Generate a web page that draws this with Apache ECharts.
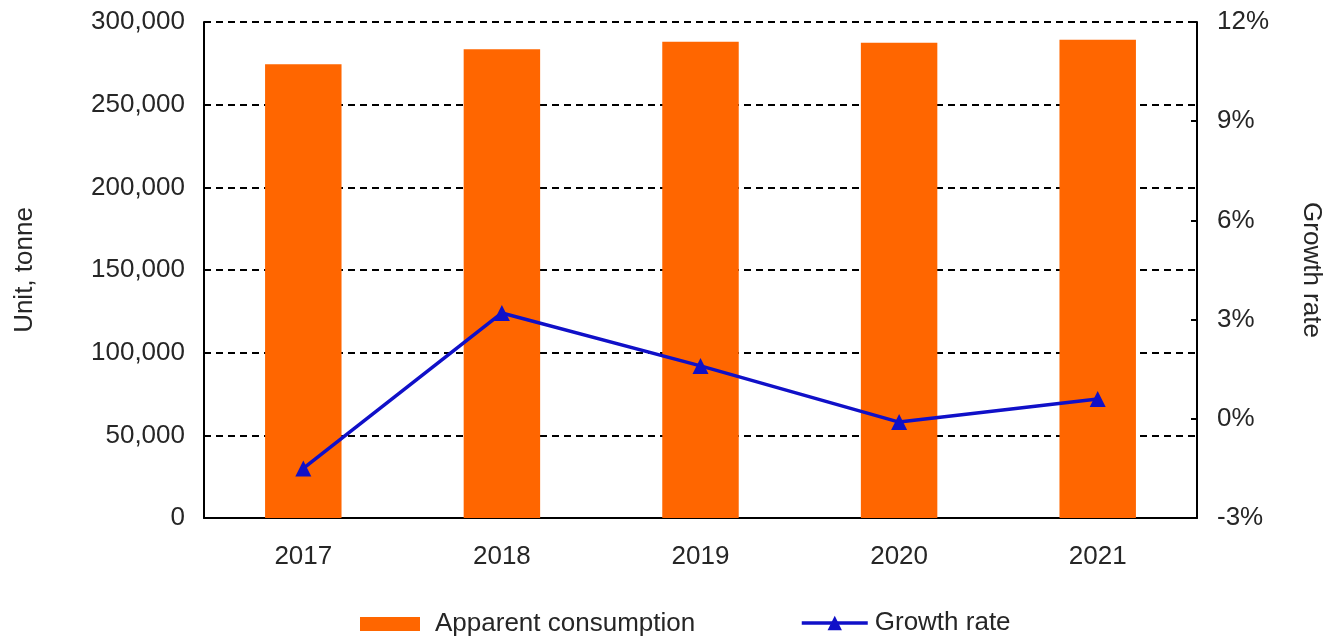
<!DOCTYPE html>
<html>
<head>
<meta charset="utf-8">
<title>Apparent consumption and growth rate, 2017-2021</title>
<script src="https://cdn.jsdelivr.net/npm/echarts@6/dist/echarts.min.js"></script>
<style>
  html, body { margin: 0; padding: 0; background: #fff; }
  #chart { width: 1335px; height: 636px; }
</style>
</head>
<body>
<div id="chart"></div>
<script>
// Years on the category axis
const years = ['2017', '2018', '2019', '2020', '2021'];
// Apparent consumption, tonnes
const consumption = [274500, 283500, 288000, 287500, 289200];
// Year-on-year growth rate, percent
const growthRate = [-1.5, 3.2, 1.6, -0.1, 0.6];

const FONT = '"Liberation Sans", Arial, sans-serif';
const TEXT = '#262626';
const LINE_BLUE = '#1010C8';

const chart = echarts.init(document.getElementById('chart'), null, { renderer: 'canvas' });

chart.setOption({
  animation: false,
  backgroundColor: '#ffffff',
  textStyle: { fontFamily: FONT, color: TEXT },
  grid: { left: 204, right: 138, top: 22, bottom: 118, outerBoundsMode: 'none', containLabel: false },
  legend: [
    {
      data: [{ name: 'Apparent consumption', icon: 'rect' }],
      left: 355, top: 606,
      itemWidth: 60, itemHeight: 14, itemGap: 0,
      textStyle: { fontFamily: FONT, fontSize: 26, color: TEXT, padding: [0, 0, 0, 10] }
    },
    {
      data: ['Growth rate'],
      left: 795, top: 605,
      itemWidth: 66, itemHeight: 18, itemGap: 0,
      lineStyle: { width: 3.5, color: LINE_BLUE },
      textStyle: { fontFamily: FONT, fontSize: 26, color: TEXT, padding: [0, 0, 0, 2] }
    }
  ],
  xAxis: {
    type: 'category',
    data: years,
    axisLine: { lineStyle: { color: '#000', width: 2 } },
    axisTick: { show: false },
    axisLabel: { fontFamily: FONT, fontSize: 26, color: TEXT, margin: 26 }
  },
  yAxis: [
    {
      type: 'value',
      min: 0, max: 300000, interval: 50000,
      name: 'Unit, tonne',
      nameLocation: 'middle',
      nameRotate: 90,
      nameGap: 166,
      nameTextStyle: { fontFamily: FONT, fontSize: 26, color: TEXT },
      axisLine: { show: true, lineStyle: { color: '#000', width: 2 } },
      axisTick: { show: true, inside: true, length: 6, lineStyle: { color: '#000', width: 2 } },
      axisLabel: {
        fontFamily: FONT, fontSize: 26, color: TEXT, margin: 19,
        formatter: v => v.toLocaleString('en-US')
      },
      splitLine: { show: true, lineStyle: { color: '#000', width: 2, type: [7, 5] } }
    },
    {
      type: 'value',
      min: -3, max: 12, interval: 3,
      name: 'Growth rate',
      nameLocation: 'middle',
      nameRotate: -90,
      nameGap: 101,
      nameTextStyle: { fontFamily: FONT, fontSize: 26, color: TEXT },
      axisLine: { show: true, lineStyle: { color: '#000', width: 2 } },
      axisTick: { show: true, inside: true, length: 6, lineStyle: { color: '#000', width: 2 } },
      axisLabel: { fontFamily: FONT, fontSize: 26, color: TEXT, margin: 20, formatter: '{value}%' },
      splitLine: { show: false }
    }
  ],
  series: [
    {
      name: 'Apparent consumption',
      type: 'bar',
      data: consumption,
      yAxisIndex: 0,
      barWidth: '38.5%',
      itemStyle: { color: '#FF6600' }
    },
    {
      name: 'Growth rate',
      type: 'line',
      data: growthRate,
      yAxisIndex: 1,
      symbol: 'triangle',
      symbolSize: 16,
      lineStyle: { color: LINE_BLUE, width: 3.5 },
      itemStyle: { color: LINE_BLUE },
      z: 5
    }
  ]
});
</script>
</body>
</html>
